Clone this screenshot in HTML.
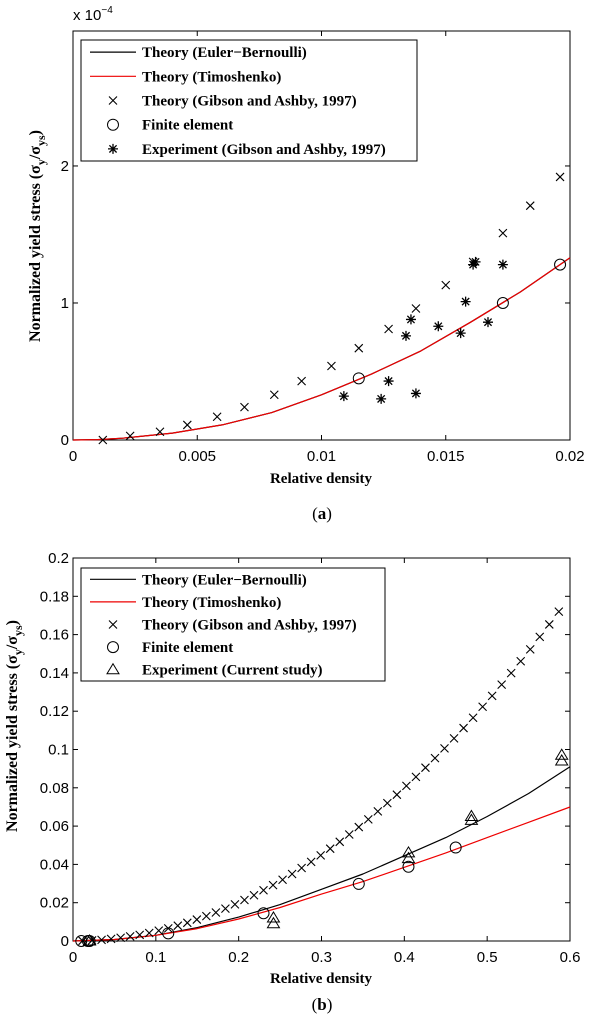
<!DOCTYPE html>
<html><head><meta charset="utf-8"><style>
html,body{margin:0;padding:0;background:#fff;width:606px;height:1024px;overflow:hidden}
svg{display:block}
.tk{font-family:"Liberation Sans",sans-serif;font-size:15px;fill:#000}
.lg{font-family:"Liberation Serif",serif;font-size:15px;font-weight:bold;fill:#000}
.ax{font-family:"Liberation Serif",serif;font-size:15px;font-weight:bold;fill:#000}
.yax{font-family:"Liberation Serif",serif;font-size:16px;font-weight:bold;fill:#000}
.cap{font-family:"Liberation Serif",serif;font-size:17px;fill:#000}
</style></head><body>
<svg id="fig" width="606" height="1024" xmlns="http://www.w3.org/2000/svg"></svg>
<script>
// ---------- Chart (a) data (y in units of 1e-4) ----------
const aCurveX = [0,0.001,0.002,0.004,0.006,0.008,0.010,0.012,0.014,0.016,0.018,0.020];
const aEulerY = [0,0.003,0.013,0.05,0.11,0.2,0.33,0.48,0.65,0.86,1.08,1.33];
const aTimoY  = [0,0.003,0.013,0.05,0.11,0.2,0.33,0.48,0.65,0.86,1.08,1.33];
const aGibX = [0.0012,0.0023,0.0035,0.0046,0.0058,0.0069,0.0081,0.0092,0.0104,0.0115,0.0127,0.0138,0.0150,0.0161,0.0173,0.0184,0.0196];
const aGibY = [0,0.03,0.06,0.11,0.17,0.24,0.33,0.43,0.54,0.67,0.81,0.96,1.13,1.30,1.51,1.71,1.92];
const aFeX = [0.0115,0.0173,0.0196];
const aFeY = [0.45,1.0,1.28];
const aExpX = [0.0109,0.0124,0.0127,0.0134,0.0136,0.0138,0.0147,0.0156,0.0158,0.0161,0.0162,0.0167,0.0173];
const aExpY = [0.32,0.30,0.43,0.76,0.88,0.34,0.83,0.78,1.01,1.28,1.30,0.86,1.28];
const aXTicks = [0,0.005,0.01,0.015,0.02];
const aXLabels = ["0","0.005","0.01","0.015","0.02"];
const aYTicks = [0,1,2];
const aYLabels = ["0","1","2"];

// ---------- Chart (b) data ----------
const bCurveX = [0,0.05,0.1,0.15,0.2,0.25,0.3,0.35,0.4,0.45,0.5,0.55,0.6];
const bEulerY = [0,0.0008,0.003,0.007,0.0125,0.019,0.027,0.035,0.0445,0.054,0.065,0.077,0.091];
const bTimoY  = [0,0.0008,0.003,0.0065,0.0115,0.0175,0.0245,0.031,0.0385,0.046,0.054,0.062,0.070];
const bGibX = [0.0115,0.023,0.0345,0.046,0.0575,0.069,0.0805,0.092,0.1035,0.115,0.1265,0.138,0.1495,0.161,0.1725,0.184,0.1955,0.207,0.2185,0.23,0.2415,0.253,0.2645,0.276,0.2875,0.299,0.3105,0.322,0.3335,0.345,0.3565,0.368,0.3795,0.391,0.4025,0.414,0.4255,0.437,0.4485,0.46,0.4715,0.483,0.4945,0.506,0.5175,0.529,0.5405,0.552,0.5635,0.575,0.5865];
const bGibY = [0.0001,0.0003,0.0006,0.0011,0.0017,0.0024,0.0032,0.0042,0.0054,0.0066,0.008,0.0095,0.0112,0.013,0.0149,0.0169,0.0191,0.0214,0.0239,0.0265,0.0292,0.032,0.035,0.0381,0.0413,0.0447,0.0482,0.0518,0.0556,0.0595,0.0635,0.0677,0.072,0.0764,0.081,0.0857,0.0905,0.0955,0.1006,0.1058,0.1112,0.1166,0.1223,0.128,0.1339,0.1399,0.1461,0.1523,0.1588,0.1653,0.172];
const bFeX = [0.01,0.018,0.02,0.115,0.23,0.345,0.405,0.462];
const bFeY = [0,0,0,0.004,0.0145,0.0298,0.0388,0.0488];
const bExpX = [0.02,0.242,0.242,0.405,0.405,0.481,0.481,0.59,0.59];
const bExpY = [0,0.009,0.012,0.043,0.046,0.063,0.065,0.094,0.097];
const bXTicks = [0,0.1,0.2,0.3,0.4,0.5,0.6];
const bXLabels = ["0","0.1","0.2","0.3","0.4","0.5","0.6"];
const bYTicks = [0,0.02,0.04,0.06,0.08,0.1,0.12,0.14,0.16,0.18,0.2];
const bYLabels = ["0","0.02","0.04","0.06","0.08","0.1","0.12","0.14","0.16","0.18","0.2"];

const NS="http://www.w3.org/2000/svg";
const svg=document.getElementById('fig');
function mk(tag,attrs,parent){const e=document.createElementNS(NS,tag);for(const k in attrs)e.setAttribute(k,attrs[k]);(parent||svg).appendChild(e);return e;}

function drawChart(cfg){
  const g=mk('g',{});
  
  
  const L=73,R=570,T=cfg.top,B=cfg.bottom;
  const sx=v=>L+(v-cfg.xmin)/(cfg.xmax-cfg.xmin)*(R-L);
  const sy=v=>B-(v-cfg.ymin)/(cfg.ymax-cfg.ymin)*(B-T);
  const box=mk('rect',{x:L,y:T,width:R-L,height:B-T,fill:'none',stroke:'#000','stroke-width':1},g);
  
  
  cfg.xt.forEach((v,i)=>{
    const x=sx(v);
    mk('line',{x1:x,y1:B,x2:x,y2:B-5,stroke:'#000'},g);
    mk('line',{x1:x,y1:T,x2:x,y2:T+5,stroke:'#000'},g);
    const t=mk('text',{x:x,y:B+21,'text-anchor':'middle',class:'tk'},g);
    t.textContent=cfg.xl[i];
    
    
  });
  cfg.yt.forEach((v,i)=>{
    const y=sy(v);
    mk('line',{x1:L,y1:y,x2:L+5,y2:y,stroke:'#000'},g);
    mk('line',{x1:R,y1:y,x2:R-5,y2:y,stroke:'#000'},g);
    const t=mk('text',{x:L-4,y:y+5,'text-anchor':'end',class:'tk'},g);
    t.textContent=cfg.yl[i];
    
    
  });
  const path=(xs,ys,col,name)=>{
    const d=xs.map((x,i)=>(i?'L':'M')+sx(x).toFixed(1)+','+sy(ys[i]).toFixed(1)).join(' ');
    const p=mk('path',{d:d,fill:'none',stroke:col,'stroke-width':1.2,'stroke-linejoin':'round'},g);
    
    
  };
  path(cfg.cx,cfg.ey,'#000','euler-bernoulli-line');
  path(cfg.cx,cfg.ty,'#e00','timoshenko-line');
  const cross=(x,y,par)=>{const s=4;return mk('path',{d:`M${x-s},${y-s}L${x+s},${y+s}M${x-s},${y+s}L${x+s},${y-s}`,stroke:'#000','stroke-width':1.1,fill:'none'},par);};
  const circ=(x,y,par)=>mk('circle',{cx:x,cy:y,r:5.5,fill:'none',stroke:'#000','stroke-width':1},par);
  const star=(x,y,par)=>{const s=5,d=3.6;return mk('path',{d:`M${x-s},${y}L${x+s},${y}M${x},${y-s}L${x},${y+s}M${x-d},${y-d}L${x+d},${y+d}M${x-d},${y+d}L${x+d},${y-d}`,stroke:'#000','stroke-width':1.3,fill:'none'},par);};
  const tri=(x,y,par)=>mk('path',{d:`M${x},${y-6}L${x+6},${y+4}L${x-6},${y+4}Z`,stroke:'#000','stroke-width':1,fill:'none'},par);
  cfg.gx.forEach((x,i)=>{const m=cross(sx(x),sy(cfg.gy[i]),g);});
  cfg.fx.forEach((x,i)=>{const m=circ(sx(x),sy(cfg.fy[i]),g);});
  cfg.px.forEach((x,i)=>{const m=(cfg.expMarker==='star'?star:tri)(sx(x),sy(cfg.py[i]),g);});
  // legend
  const lg=mk('g',{},g);
  
  
  mk('rect',{x:81,y:cfg.lt,width:cfg.lw,height:cfg.lh,fill:'#fff',stroke:'#000'},lg);
  const rowH=cfg.lh/5, labels=cfg.labels;
  labels.forEach((lab,i)=>{
    const cy=cfg.lt+rowH*(i+0.5);
    if(i===0)mk('line',{x1:90,y1:cy,x2:136,y2:cy,stroke:'#000','stroke-width':1.2},lg);
    if(i===1)mk('line',{x1:90,y1:cy,x2:136,y2:cy,stroke:'#e00','stroke-width':1.2},lg);
    if(i===2)cross(113,cy,lg);
    if(i===3)circ(113,cy,lg);
    if(i===4)(cfg.expMarker==='star'?star:tri)(113,cy,lg);
    const t=mk('text',{x:142,y:cy+5,class:'lg'},lg);
    t.textContent=lab;
    
    
  });
  const xt=mk('text',{x:321,y:cfg.xTitleY,'text-anchor':'middle',class:'ax'},g);
  xt.textContent='Relative density';
  
  
  const yt=mk('text',{x:0,y:0,'text-anchor':'middle',class:'yax',transform:`translate(${cfg.yTitleX},${cfg.yTitleC}) rotate(-90)`},g);
  yt.innerHTML='Normalized yield stress (σ<tspan font-size="12" dy="5">y</tspan><tspan dy="-5">/σ</tspan><tspan font-size="12" dy="5">ys</tspan><tspan dy="-5">)</tspan>';
  
  
  const c=mk('text',{x:322,y:cfg.capY,'text-anchor':'middle',class:'cap'},g);
  c.innerHTML='(<tspan font-weight="bold">'+cfg.cap+'</tspan>)';
  
  
}

drawChart({name:'chart-a',top:31,bottom:440,xmin:0,xmax:0.02,ymin:0,ymax:2.985,
  xt:aXTicks,xl:aXLabels,yt:aYTicks,yl:aYLabels,cx:aCurveX,ey:aEulerY,ty:aTimoY,
  gx:aGibX,gy:aGibY,fx:aFeX,fy:aFeY,px:aExpX,py:aExpY,expMarker:'star',
  lt:40,lw:336,lh:121,labels:['Theory (Euler\u2212Bernoulli)','Theory (Timoshenko)','Theory (Gibson and Ashby, 1997)','Finite element','Experiment (Gibson and Ashby, 1997)'],
  xTitleY:483,yTitleX:40,yTitleC:236,capY:519,cap:'a'});
drawChart({name:'chart-b',top:558,bottom:941,xmin:0,xmax:0.6,ymin:0,ymax:0.2,
  xt:bXTicks,xl:bXLabels,yt:bYTicks,yl:bYLabels,cx:bCurveX,ey:bEulerY,ty:bTimoY,
  gx:bGibX,gy:bGibY,fx:bFeX,fy:bFeY,px:bExpX,py:bExpY,expMarker:'tri',
  lt:568,lw:304,lh:113,labels:['Theory (Euler\u2212Bernoulli)','Theory (Timoshenko)','Theory (Gibson and Ashby, 1997)','Finite element','Experiment (Current study)'],
  xTitleY:983,yTitleX:17,yTitleC:726,capY:1010,cap:'b'});
const ex=mk('text',{x:73,y:20,class:'tk'});
ex.innerHTML='x 10<tspan font-size="10" dy="-7">\u22124</tspan>';


</script>
</body></html>
